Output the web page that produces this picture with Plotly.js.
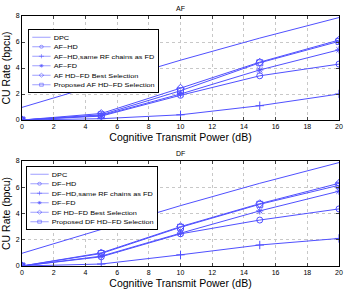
<!DOCTYPE html>
<html><head><meta charset="utf-8">
<script src="https://cdn.plot.ly/plotly-3.0.1.min.js"></script>
<style>html,body{margin:0;padding:0;background:#fff}#chart{width:346px;height:289px}</style>
</head><body><div id="chart"></div>
<script>
const power = [0, 5, 10, 15, 20];
const xTicks = [0, 2, 4, 6, 8, 10, 12, 14, 16, 18, 20];
const yTicks = [0, 2, 4, 6, 8];

const afNames = ["DPC", "AF\u2212HD", "AF\u2212HD,same RF chains as FD", "AF\u2212FD", "AF HD\u2212FD Best Selection", "Proposed AF HD\u2212FD Selection"];
const afDPC = [0.97, 2.8, 4.6, 6.3, 7.88];
const afHD = [0, 0.3, 1.9, 3.4, 4.3];
const afHDsame = [0, 0.1, 0.4, 1.1, 2.0];
const afFD = [0, 0.35, 2.0, 3.85, 5.4];
const afBest = [0, 0.5, 2.45, 4.45, 6.15];
const afProp = [0, 0.4, 2.25, 4.4, 6.05];

const dfNames = ["DPC", "DF\u2212HD", "DF\u2212HD,same RF chains as FD", "DF\u2212FD", "DF HD\u2212FD Best Selection", "Proposed DF HD\u2212FD Selection"];
const dfDPC = [0.97, 2.8, 4.6, 6.3, 7.88];
const dfHD = [0, 0.7, 2.45, 3.5, 4.35];
const dfHDsame = [0, 0.15, 0.85, 1.6, 2.1];
const dfFD = [0, 0.75, 2.5, 4.2, 5.7];
const dfBest = [0, 1.0, 3.0, 4.75, 6.3];
const dfProp = [0, 0.95, 2.95, 4.7, 6.15];

const color = "#5050ff";
const symbols = [null, "circle-open", "cross-thin-open", "asterisk-open", "diamond-open", "square-open"];

function makeTraces(names, series, xa, ya, leg) {
  return series.map((s, i) => {
    const t = {
      x: power, y: s, name: names[i], type: "scatter",
      mode: i === 0 ? "lines" : "lines+markers",
      xaxis: xa, yaxis: ya, legend: leg,
      line: {color: color, width: 1}
    };
    if (symbols[i]) t.marker = {symbol: symbols[i], size: 6, color: color, line: {color: color, width: 1}};
    return t;
  });
}

const traces = [
  ...makeTraces(afNames, [afDPC, afHD, afHDsame, afFD, afBest, afProp], "x", "y", "legend"),
  ...makeTraces(dfNames, [dfDPC, dfHD, dfHDsame, dfFD, dfBest, dfProp], "x2", "y2", "legend2")
];

const font = "Liberation Sans, Arial, sans-serif";
function xAxis(anchor) {
  return {anchor: anchor, range: [0, 20], tickvals: xTicks, ticks: "inside", ticklen: 3, mirror: "ticks",
    showline: true, linecolor: "#000", linewidth: 1, showgrid: true, gridcolor: "#c8c8c8", griddash: "dot",
    zeroline: false, tickfont: {size: 7, color: "#000", family: font}, automargin: false,
    title: {text: "Cognitive Transmit Power (dB)", font: {size: 10.5, color: "#000", family: font}, standoff: 4}};
}
function yAxis(anchor, dom) {
  return {anchor: anchor, domain: dom, range: [0, 8], tickvals: yTicks, ticks: "inside", ticklen: 3, mirror: "ticks",
    showline: true, linecolor: "#000", linewidth: 1, showgrid: true, gridcolor: "#c8c8c8", griddash: "dot",
    zeroline: false, tickfont: {size: 7, color: "#000", family: font}, automargin: false,
    title: {text: "CU Rate (bpcu)", font: {size: 10.5, color: "#000", family: font}, standoff: 3}};
}
function legend(x, y) {
  return {x: x, y: y, xanchor: "left", yanchor: "top", bgcolor: "#fff", bordercolor: "#000", borderwidth: 2,
    font: {size: 12, color: "#000", family: font}, tracegroupgap: 0};
}

const layout = {
  width: 346, height: 289, margin: {l: 22, r: 7, t: 16, b: 23, autoexpand: false},
  paper_bgcolor: "#fff", plot_bgcolor: "#fff", showlegend: true,
  xaxis: xAxis("y"), yaxis: yAxis("x", [0.584, 1]),
  xaxis2: xAxis("y2"), yaxis2: yAxis("x2", [0, 0.42]),
  legend: legend(0.019, 0.948), legend2: legend(0.013, 0.4),
  annotations: [
    {text: "AF", xref: "paper", yref: "paper", x: 0.5, y: 1, yanchor: "bottom", yshift: 2, showarrow: false, font: {size: 7, color: "#000", family: font}},
    {text: "DF", xref: "paper", yref: "paper", x: 0.5, y: 0.42, yanchor: "bottom", yshift: 2, showarrow: false, font: {size: 7, color: "#000", family: font}}
  ]
};

Plotly.newPlot("chart", traces, layout, {staticPlot: true}).then(gd => {
  gd.querySelectorAll("g.legend, g.legend2").forEach(g => {
    const t = g.getAttribute("transform") || "";
    g.setAttribute("transform", t + " scale(0.61,0.5)");
  });
});
</script></body></html>
